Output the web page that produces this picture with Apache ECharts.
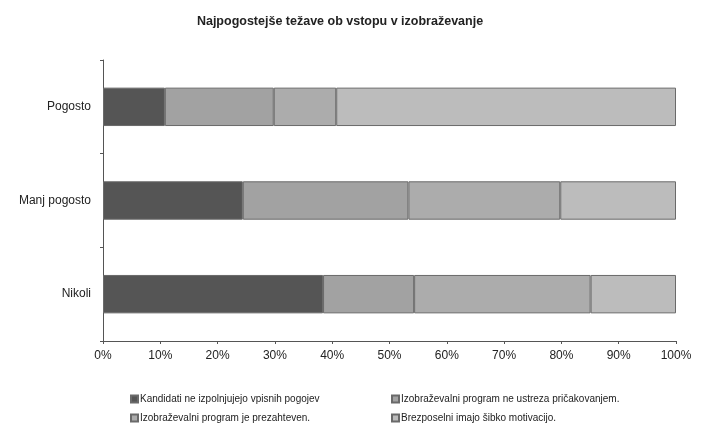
<!DOCTYPE html>
<html>
<head>
<meta charset="utf-8">
<script src="https://cdn.jsdelivr.net/npm/echarts@6/dist/echarts.min.js"></script>
<style>
  html, body { margin: 0; padding: 0; background: #fff; }
  #chart { width: 707px; height: 430px; }
</style>
</head>
<body>
<div id="chart"></div>
<script>
// kategorije (od spodaj navzgor)
var categories = ['Nikoli', 'Manj pogosto', 'Pogosto'];

var seriesNames = [
  'Kandidati ne izpolnjujejo vpisnih pogojev',
  'Izobraževalni program ne ustreza pričakovanjem.',
  'Izobraževalni program je prezahteven.',
  'Brezposelni imajo šibko motivacijo.'
];

// deleži v %
var pogoji = [38.4, 24.4, 10.8];
var pricakovanja = [15.9, 28.9, 19.0];
var prezahteven = [30.8, 26.5, 10.9];
var motivacija = [14.9, 20.2, 59.3];

var colors = ['#555555', '#a2a2a2', '#acacac', '#bcbcbc'];

// položaji legende (2 stolpca x 2 vrstici)
var legendPos = [[130, 394], [391, 394], [130, 413], [391, 413]];

var chart = echarts.init(document.getElementById('chart'));

function bar(name, data, i) {
  return {
    name: name,
    type: 'bar',
    stack: 'total',
    barWidth: '41%',
    data: data,
    itemStyle: {
      color: colors[i],
      borderColor: '#6a6a6a',
      borderWidth: 1
    }
  };
}

var font = 'Liberation Sans, Arial, sans-serif';

var legends = seriesNames.map(function (name, i) {
  return {
    left: legendPos[i][0],
    top: legendPos[i][1],
    padding: 0,
    icon: 'rect',
    itemWidth: 7,
    itemHeight: 7,
    itemGap: 0,
    textStyle: { fontSize: 10, color: '#222', padding: [0, 0, 0, -3] },
    data: [name]
  };
});

var option = {
  animation: false,
  textStyle: { fontFamily: font },
  title: {
    text: 'Najpogostejše težave ob vstopu v izobraževanje',
    left: 335,
    textAlign: 'center',
    top: 10,
    textStyle: { fontSize: 12.5, fontWeight: 'bold', color: '#222', fontFamily: font }
  },
  legend: legends,
  grid: { left: 103, right: 31, top: 60, bottom: 89 },
  xAxis: {
    type: 'value',
    min: 0,
    max: 100,
    interval: 10,
    axisLine: { show: true, lineStyle: { color: '#555' } },
    axisTick: { show: true, length: 3, lineStyle: { color: '#555' } },
    splitLine: { show: false },
    axisLabel: { formatter: '{value}%', fontSize: 12, color: '#222', margin: 9 }
  },
  yAxis: {
    type: 'category',
    data: categories,
    axisLine: { show: true, lineStyle: { color: '#555' } },
    axisTick: { show: true, length: 3, lineStyle: { color: '#555' } },
    axisLabel: { fontSize: 12, color: '#222', margin: 12 }
  },
  series: [
    bar(seriesNames[0], pogoji, 0),
    bar(seriesNames[1], pricakovanja, 1),
    bar(seriesNames[2], prezahteven, 2),
    bar(seriesNames[3], motivacija, 3)
  ]
};

chart.setOption(option);
</script>
</body>
</html>
